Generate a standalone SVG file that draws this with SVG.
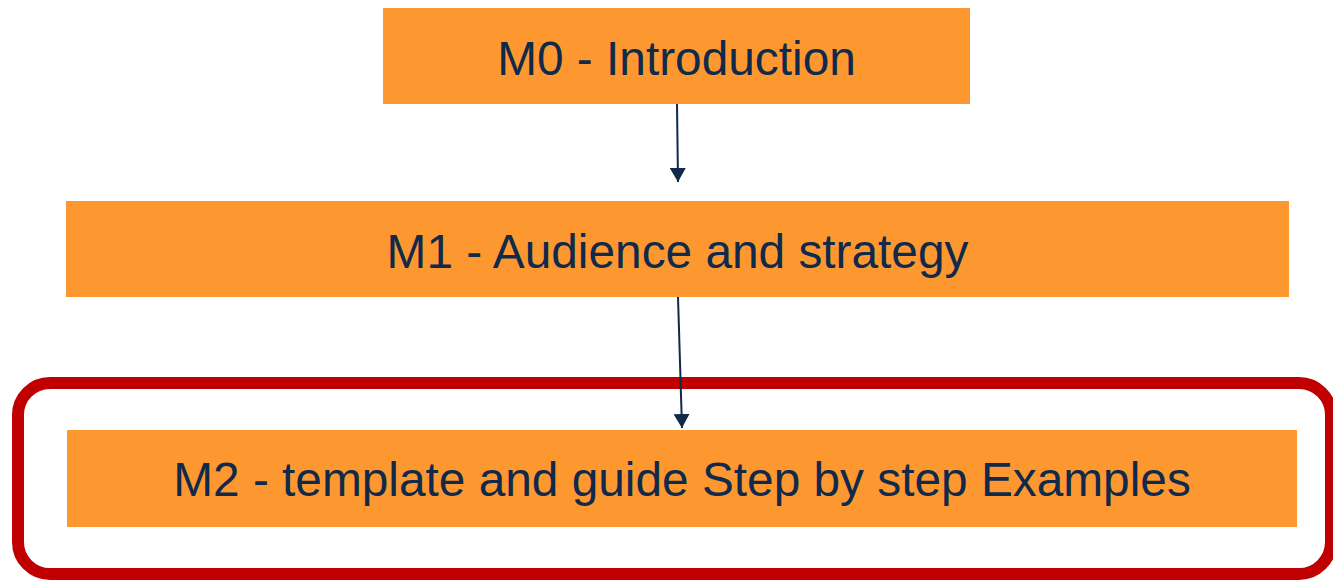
<svg xmlns="http://www.w3.org/2000/svg" width="1333" height="580" viewBox="0 0 1333 580">
  <defs>
    <style>
      .box { fill: #FD9831; }
      .lbl { font-family: "Liberation Sans", Arial, sans-serif; font-size: 47.8px; fill: #11294A; text-anchor: middle; }
      .conn { stroke: #11294A; stroke-width: 2; fill: none; }
    </style>
    <marker id="arr" viewBox="0 0 14 16" refX="14" refY="8" markerWidth="14" markerHeight="16" markerUnits="userSpaceOnUse" orient="auto">
      <path d="M0,0 L14,8 L0,16 z" fill="#11294A"/>
    </marker>
  </defs>
  <rect width="1333" height="580" fill="#FFFFFF"/>
  <g id="highlight">
    <rect x="18" y="383" width="1313" height="191" rx="32" ry="32" fill="none" stroke="#C00000" stroke-width="12"/>
  </g>
  <g id="connectors">
    <line class="conn" x1="677" y1="104" x2="678" y2="182" marker-end="url(#arr)"/>
    <line class="conn" x1="678" y1="297" x2="682" y2="428" marker-end="url(#arr)"/>
  </g>
  <g id="m0">
    <rect class="box" x="383" y="8" width="587" height="96"/>
    <text class="lbl" x="676.5" y="75">M0 - Introduction</text>
  </g>
  <g id="m1">
    <rect class="box" x="66" y="201" width="1223" height="96"/>
    <text class="lbl" x="677.5" y="268">M1 - Audience and strategy</text>
  </g>
  <g id="m2">
    <rect class="box" x="67" y="430" width="1230" height="97"/>
    <text class="lbl" x="682" y="496">M2 - template and guide Step by step Examples</text>
  </g>
</svg>
